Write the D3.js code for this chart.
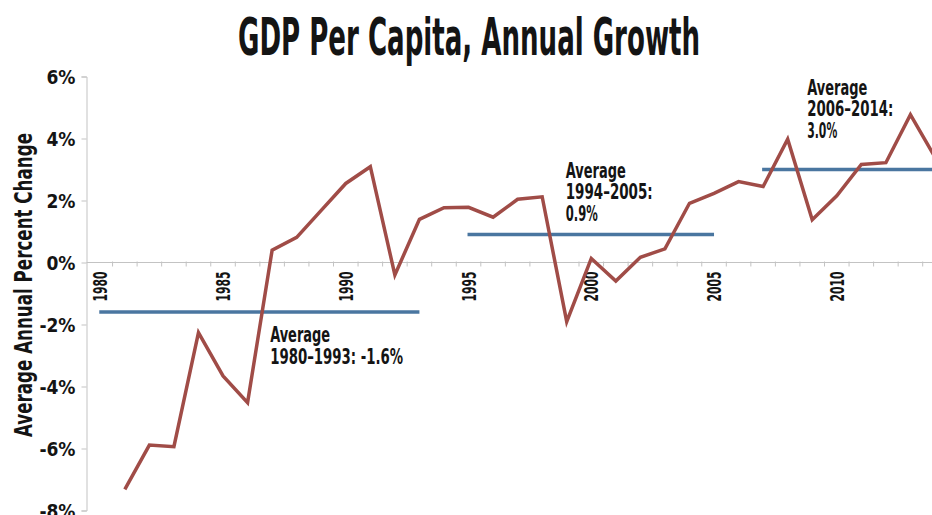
<!DOCTYPE html>
<html>
<head>
<meta charset="utf-8">
<script src="https://cdn.jsdelivr.net/npm/d3@7"></script>
<style>
  html, body { margin: 0; padding: 0; background: #fff; }
  svg { display: block; }
  text { font-family: 'Liberation Sans Narrow', 'DejaVu Sans Condensed', 'Liberation Sans', sans-serif; font-weight: bold; fill: #141414; }
</style>
</head>
<body>
<svg id="chart" width="932" height="515"></svg>
<script>
// ---- data ----
const chartTitle = "GDP Per Capita, Annual Growth";
const yAxisTitle = "Average Annual Percent Change";
const years = [1980,1981,1982,1983,1984,1985,1986,1987,1988,1989,1990,1991,1992,1993,1994,1995,1996,1997,1998,1999,2000,2001,2002,2003,2004,2005,2006,2007,2008,2009,2010,2011,2012,2013,2014];
const growth = [null,-7.32,-5.89,-5.94,-2.26,-3.66,-4.52,0.40,0.81,1.68,2.55,3.09,-0.40,1.39,1.77,1.78,1.46,2.04,2.12,-1.91,0.13,-0.60,0.17,0.44,1.91,2.23,2.61,2.45,3.98,1.38,2.15,3.16,3.22,4.77,3.40];
const xTickLabels = [1980,1985,1990,1995,2000,2005,2010];
const yTickValues = [-8,-6,-4,-2,0,2,4,6];
const avgValues = [-1.6, 0.9, 3.0];
const avgStart = [1980, 1995, 2007];
const avgEnd = [1993, 2005, 2014];
const avgLines = [
  ["Average", "1980\u20131993: -1.6%"],
  ["Average", "1994\u20132005:", "0.9%"],
  ["Average", "2006\u20132014:", "3.0%"]
];

// ---- layout ----
const svg = d3.select("#chart");
const x = d3.scaleBand().domain(years).range([88, 88 + 35 * 24.55]).padding(0);
const cx = yr => x(yr) + x.bandwidth() / 2;
const y = d3.scaleLinear().domain([-8, 6]).range([510.5, 76.5]);
const axisColor = "#c3c3c3";

// title
svg.append("text")
  .attr("x", 469).attr("y", 55)
  .attr("text-anchor", "middle")
  .attr("font-size", 52)
  .attr("textLength", 462).attr("lengthAdjust", "spacingAndGlyphs")
  .text(chartTitle);

// y axis title
svg.append("text")
  .attr("transform", "translate(32,285) rotate(-90)")
  .attr("text-anchor", "middle")
  .attr("font-size", 25)
  .attr("textLength", 304).attr("lengthAdjust", "spacingAndGlyphs")
  .text(yAxisTitle);

// y axis
const yAxis = d3.axisLeft(y).tickValues(yTickValues).tickSize(5).tickFormat(d => d + "%");
const gy = svg.append("g").attr("transform", "translate(86.5,0)").call(yAxis);
gy.select(".domain").attr("stroke", axisColor);
gy.selectAll(".tick line").attr("stroke", axisColor);
gy.selectAll(".tick text")
  .attr("x", -11).attr("dy", "0.36em")
  .attr("font-size", 19)
  .attr("fill", "#141414")
  .style("font-family", "'Liberation Sans Narrow', 'DejaVu Sans Condensed', sans-serif")
  .style("font-weight", "bold");

// x axis at y=0
const gx = svg.append("g").attr("transform", `translate(0,${y(0)})`);
gx.append("line")
  .attr("x1", 86.5).attr("x2", 932)
  .attr("stroke", axisColor).attr("stroke-width", 1);
gx.selectAll("line.tk").data(years).join("line")
  .attr("class", "tk")
  .attr("x1", d => x(d) + x.bandwidth()).attr("x2", d => x(d) + x.bandwidth())
  .attr("y1", -1).attr("y2", 4)
  .attr("stroke", axisColor);
gx.selectAll("text.xl").data(xTickLabels).join("text")
  .attr("class", "xl")
  .attr("transform", d => `translate(${cx(d) + 7},9) rotate(-90)`)
  .attr("text-anchor", "end")
  .attr("font-size", 19)
  .attr("textLength", 30).attr("lengthAdjust", "spacingAndGlyphs")
  .text(d => d);

// average lines
svg.selectAll("line.avg").data(avgValues).join("line")
  .attr("class", "avg")
  .attr("x1", (d, i) => cx(avgStart[i]) - 1)
  .attr("x2", (d, i) => cx(avgEnd[i]))
  .attr("y1", d => y(d)).attr("y2", d => y(d))
  .attr("stroke", "#4a76a0").attr("stroke-width", 3.5);

// growth line
const pts = years.map((yr, i) => [yr, growth[i]]).filter(d => d[1] !== null);
svg.append("path")
  .datum(pts)
  .attr("fill", "none")
  .attr("stroke", "#a04c47")
  .attr("stroke-width", 3.5)
  .attr("stroke-linejoin", "miter")
  .attr("d", d3.line().x(d => cx(d[0])).y(d => y(d[1])));

// annotations (positioned relative to scales)
const annPos = [
  {x: cx(1987) - 2, y: y(avgValues[0]) + 30},
  {x: cx(1999) - 1, y: y(avgValues[1]) - 57},
  {x: cx(2009) - 5, y: y(avgValues[2]) - 75}
];
const annWidths = [[60, 133], [60, 87, 32], [60, 86, 30]];
avgLines.forEach((lines, i) => {
  const t = svg.append("text")
    .attr("x", annPos[i].x).attr("y", annPos[i].y)
    .attr("font-size", 21);
  lines.forEach((ln, j) => {
    t.append("tspan")
      .attr("x", annPos[i].x)
      .attr("y", annPos[i].y + j * 21.6)
      .attr("textLength", annWidths[i][j]).attr("lengthAdjust", "spacingAndGlyphs")
      .text(ln);
  });
});
</script>
</body>
</html>
